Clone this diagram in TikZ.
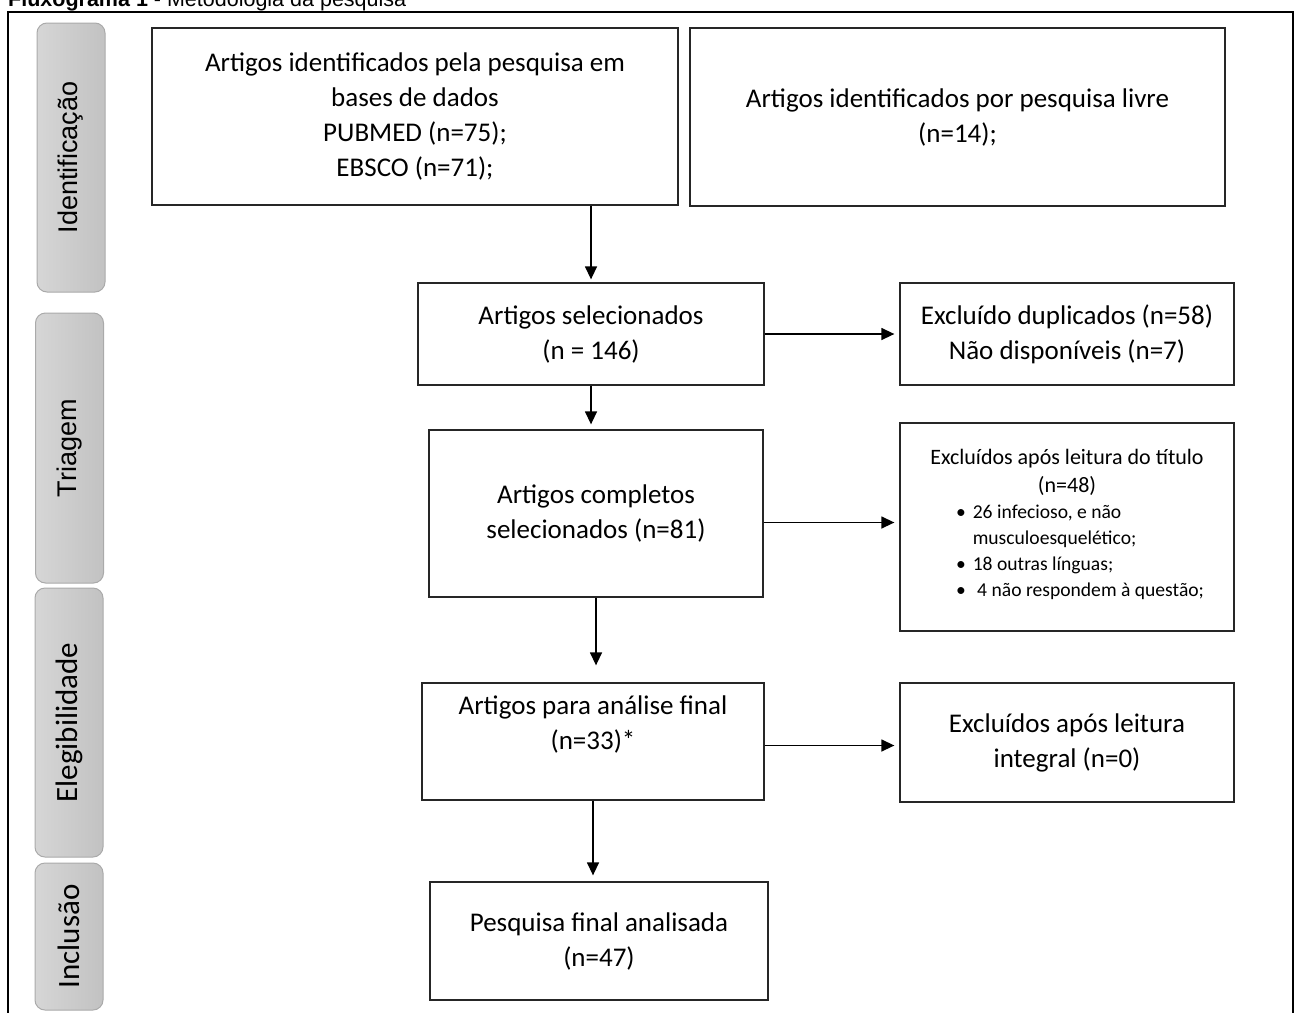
\documentclass[tikz,border=0pt]{standalone}
\usepackage{fontspec}
\setmainfont{Carlito}
\newfontfamily\arialfont{Liberation Sans}
\usetikzlibrary{arrows.meta, positioning, calc}
\definecolor{phaselight}{RGB}{214,214,214}
\definecolor{phasedark}{RGB}{194,194,194}
\definecolor{phaseline}{RGB}{170,170,170}

\begin{document}
\begin{tikzpicture}[x=1pt, y=-1pt,
  box/.style={rectangle, draw=black!85, line width=1.3pt, align=center,
    font=\fontsize{27}{35}\selectfont, inner sep=0pt},
  phase/.style={rectangle, rounded corners=10pt, draw=phaseline, line width=1pt,
    left color=phaselight, right color=phasedark, minimum width=68pt, inner sep=0pt},
  arr/.style={-{Triangle[length=13pt,width=12pt]}, line width=1.4pt}
]
\useasboundingbox (0,0) rectangle (1295,1012);

% frame and caption
\draw[line width=2.4pt] (8,1040) -- (8,12) -- (1293,12) -- (1293,1040);
\node[anchor=base west, inner sep=0pt, font=\arialfont\fontsize{21.5}{26}\selectfont]
  (caption) at (8,6) {\textbf{Fluxograma 1} - Metodologia da pesquisa};

% phases
\node[phase, minimum height=269pt] (ident) at (71,157.5)
  {\rotatebox{90}{\arialfont\fontsize{27}{30}\selectfont Identificação}};
\node[phase, minimum height=270pt] (triag) at (69.5,448)
  {\rotatebox{90}{\arialfont\fontsize{27}{30}\selectfont Triagem}};
\node[phase, minimum height=269pt] (eleg) at (69,722.5)
  {\rotatebox{90}{\fontsize{31}{34}\selectfont Elegibilidade}};
\node[phase, minimum height=147pt] (incl) at (69,936.5)
  {\rotatebox{90}{\fontsize{31}{34}\selectfont Inclusão}};

% identification
\node[box, minimum width=526pt, minimum height=177pt] (bases) at (415,116.5)
  {Artigos identificados pela pesquisa em\\bases de dados\\PUBMED (n=75);\\EBSCO (n=71);};
\node[box, minimum width=535pt, minimum height=178pt] (livre) at (957.5,117)
  {Artigos identificados por pesquisa livre\\(n=14);};

% screening
\node[box, minimum width=346pt, minimum height=102pt] (selec) at (591,334)
  {Artigos selecionados\\(n = 146)};
\node[box, minimum width=334pt, minimum height=102pt] (dupl) at (1067,334)
  {Excluído duplicados (n=58)\\Não disponíveis (n=7)};
\node[box, minimum width=334pt, minimum height=167pt] (compl) at (596,513.5)
  {Artigos completos\\selecionados (n=81)};
\node[box, minimum width=334pt, minimum height=208pt,
      font=\fontsize{22}{28}\selectfont] (titulo) at (1067,527)
  {Excluídos após leitura do título\\
   (n=48)\\[-2pt]
   \hspace*{26pt}\fontsize{19.6}{26}\selectfont
   \begin{tabular}[t]{@{}l@{\hspace{7pt}}l@{}}
   \textbullet & 26 infecioso, e não\\
               & musculoesquelético;\\
   \textbullet & 18 outras línguas;\\
   \textbullet & \ 4 não respondem à questão;
   \end{tabular}};

% eligibility and inclusion
\node[box, minimum width=342pt, minimum height=117pt, text depth=38pt] (final) at (593,741.5)
  {Artigos para análise final\\(n=33)*};
\node[box, minimum width=334pt, minimum height=119pt] (integ) at (1067,742.5)
  {Excluídos após leitura\\integral (n=0)};
\node[box, minimum width=338pt, minimum height=118pt] (analis) at (599,941)
  {Pesquisa final analisada\\(n=47)};

\draw[arr, shorten >=3pt] (bases.south -| selec.north) -- (selec.north);
\foreach \f/\t/\s in {selec/compl/5pt, compl/final/17pt, final/analis/6pt}
  \draw[arr, shorten >=\s] (\f.south) -- (\f.south |- \t.north);
\foreach \f/\t/\d in {selec/dupl/0pt, compl/titulo/-9pt, final/integ/-4pt}
  \draw[arr, shorten >=5pt] ([yshift=\d]\f.east) -- ([yshift=\d]\f.east -| \t.west);
\end{tikzpicture}
\end{document}
